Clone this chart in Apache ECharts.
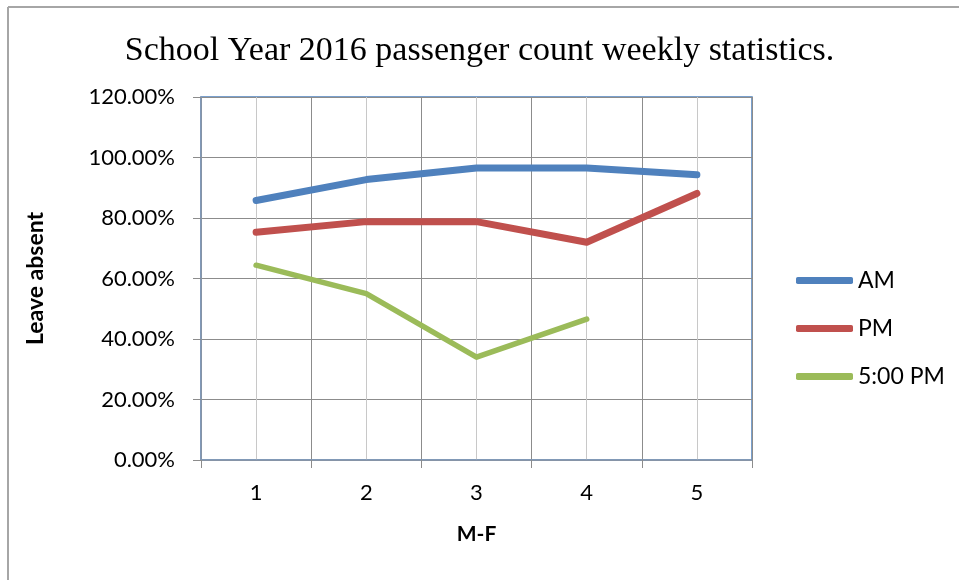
<!DOCTYPE html>
<html>
<head>
<meta charset="utf-8">
<script src="https://cdn.jsdelivr.net/npm/echarts@6/dist/echarts.min.js"></script>
<style>
  html, body { margin: 0; padding: 0; background: #fff; }
  #main { width: 959px; height: 580px; }
</style>
</head>
<body>
<div id="main"></div>
<script>
// 数据
var days = ['1', '2', '3', '4', '5'];
var amData = [0.858, 0.927, 0.965, 0.965, 0.943];
var pmData = [0.753, 0.788, 0.788, 0.720, 0.881];
var fivePmData = [0.644, 0.550, 0.340, 0.466, null];
var yTicks = [0, 0.2, 0.4, 0.6, 0.8, 1.0, 1.2];

var font = 'Lato';

var myChart = echarts.init(document.getElementById('main'));
var option = {
    backgroundColor: '#fff',
    animation: false,
    title: {
        text: 'School Year 2016 passenger count weekly statistics.',
        left: 'center',
        top: 29,
        textStyle: {
            fontFamily: 'Liberation Serif',
            fontSize: 34,
            fontWeight: 'normal',
            color: '#000'
        }
    },
    graphic: [
        { type: 'line', shape: { x1: 8, y1: 7, x2: 959, y2: 7 }, style: { stroke: '#a6a6a6', lineWidth: 2 } },
        { type: 'line', shape: { x1: 8, y1: 7, x2: 8, y2: 580 }, style: { stroke: '#a6a6a6', lineWidth: 2 } }
    ],
    legend: {
        orient: 'vertical',
        left: 791,
        top: 264,
        itemWidth: 57,
        itemHeight: 7,
        itemGap: 25,
        icon: 'roundRect',
        textStyle: { fontFamily: font, fontSize: 23, color: '#000' },
        data: ['AM', 'PM', '5:00 PM']
    },
    grid: {
        left: 201,
        right: 207,
        top: 97,
        bottom: 120,
        show: true,
        borderColor: '#4F81BD',
        borderWidth: 1.5
    },
    xAxis: [{
        type: 'category',
        data: days,
        boundaryGap: true,
        name: 'M-F',
        nameLocation: 'middle',
        nameGap: 64,
        nameTextStyle: { fontFamily: font, fontSize: 21, fontWeight: 'bold', color: '#000' },
        axisLine: { lineStyle: { color: '#8497b0', width: 1.5 } },
        axisTick: { show: true, length: 8, lineStyle: { color: '#8c8c8c' } },
        axisLabel: { margin: 22, fontFamily: font, fontSize: 22, color: '#000' },
        splitLine: { show: true, lineStyle: { color: '#8c8c8c', width: 1 } }
    }, {
        type: 'value',
        min: 0.5,
        max: 5.5,
        interval: 1,
        show: true,
        axisLine: { show: false },
        axisTick: { show: false },
        axisLabel: { show: false },
        splitLine: { show: false },
        minorTick: { show: false, splitNumber: 2 },
        minorSplitLine: { show: true, lineStyle: { color: '#c8c8c8', width: 1 } }
    }],
    yAxis: {
        type: 'value',
        min: yTicks[0],
        max: yTicks[yTicks.length - 1],
        interval: 0.2,
        name: 'Leave absent',
        nameLocation: 'middle',
        nameGap: 154,
        nameTextStyle: { fontFamily: font, fontSize: 23, fontWeight: 'bold', color: '#000' },
        axisLine: { show: true, lineStyle: { color: '#8497b0', width: 1.5 } },
        axisTick: { show: true, length: 8, lineStyle: { color: '#8c8c8c' } },
        axisLabel: {
            margin: 26,
            fontFamily: font,
            fontSize: 22,
            color: '#000',
            formatter: function (v) { return (v * 100).toFixed(2) + '%'; }
        },
        splitLine: { show: true, lineStyle: { color: '#8c8c8c', width: 1 } }
    },
    series: [{
        name: 'AM',
        type: 'line',
        data: amData,
        symbol: 'none',
        color: '#4F81BD',
        lineStyle: { width: 7, cap: 'round', join: 'round' }
    }, {
        name: 'PM',
        type: 'line',
        data: pmData,
        symbol: 'none',
        color: '#C0504D',
        lineStyle: { width: 7, cap: 'round', join: 'round' }
    }, {
        name: '5:00 PM',
        type: 'line',
        data: fivePmData,
        symbol: 'none',
        color: '#9BBB59',
        lineStyle: { width: 5.5, cap: 'round', join: 'round' }
    }]
};
myChart.setOption(option);
</script>
</body>
</html>
